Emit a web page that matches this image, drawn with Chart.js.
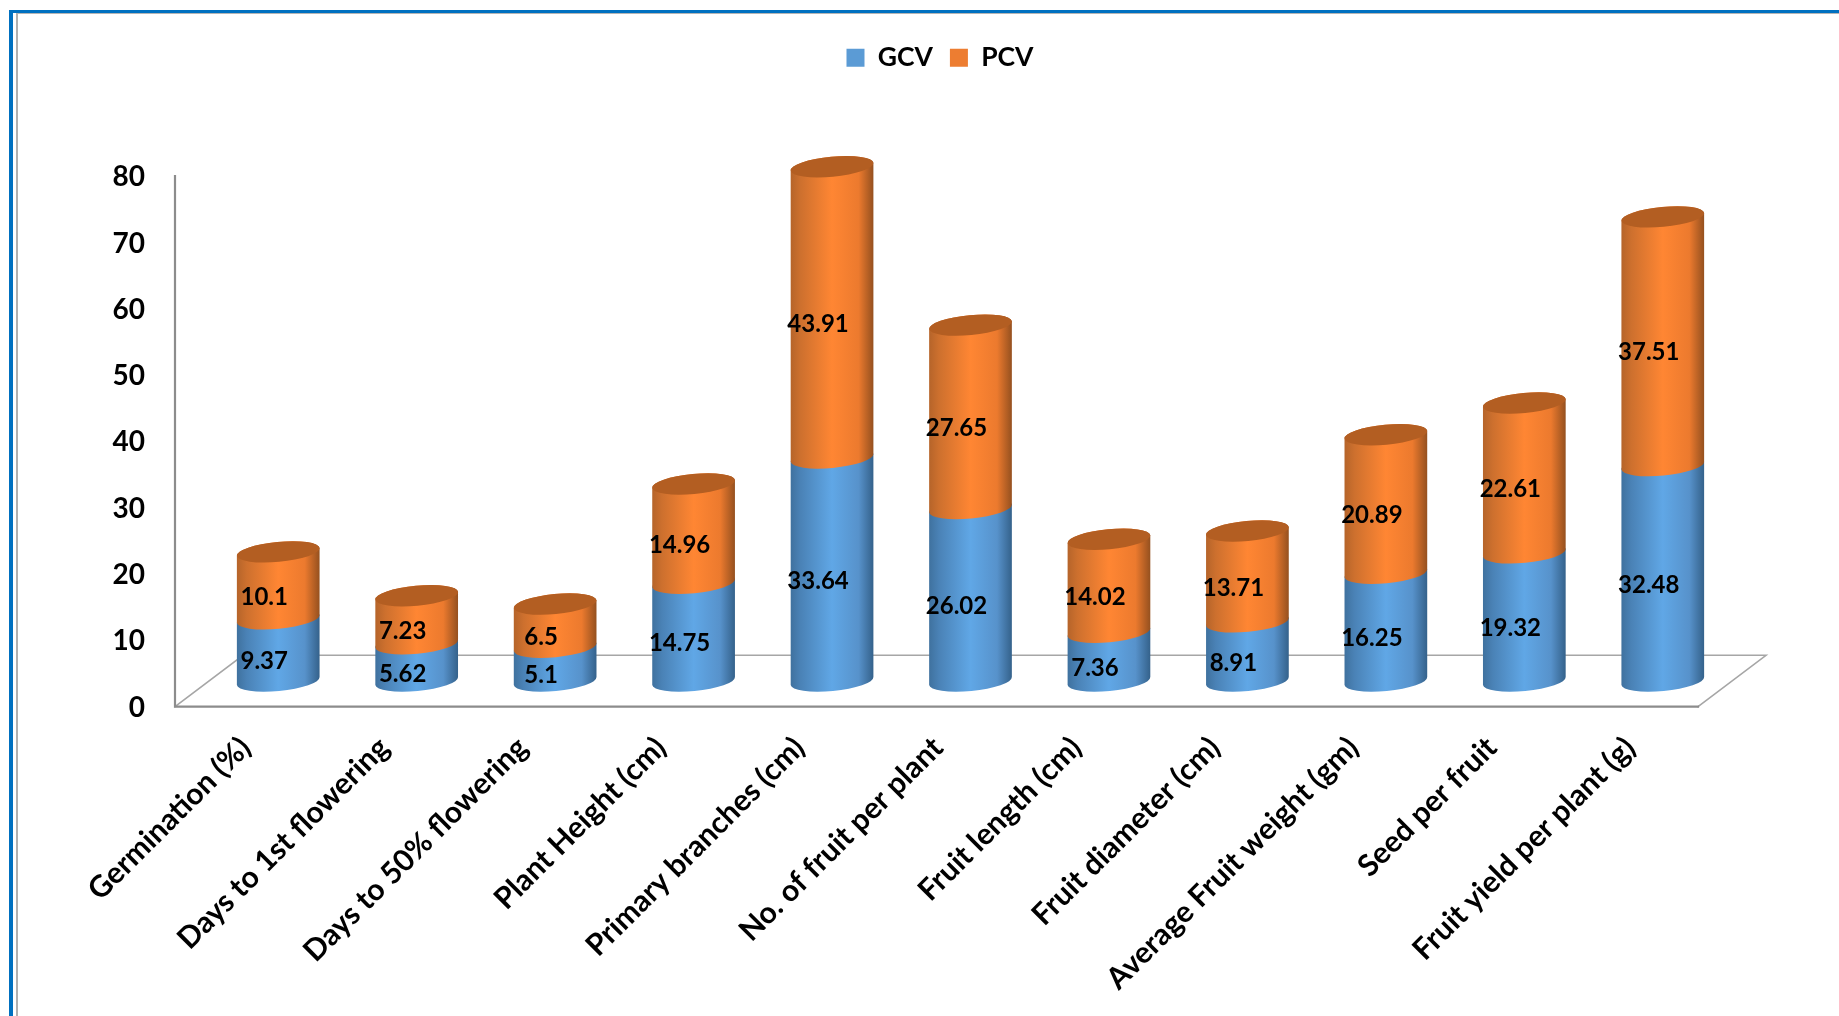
<!DOCTYPE html>
<html>
<head>
<meta charset="utf-8">
<title>GCV and PCV by trait</title>
<script src="https://cdn.jsdelivr.net/npm/chart.js@4"></script>
<style>
  html, body { margin: 0; padding: 0; background: #fff; overflow: hidden; }
  #wrap { position: relative; width: 1839px; height: 1016px; }
  #wrap canvas { position: absolute; left: 0; top: 0; }
  .rule { position: absolute; }
</style>
</head>
<body>
<div id="wrap">
  <div class="rule" style="left:9px;top:10px;right:0;height:3px;background:#0070c0"></div>
  <div class="rule" style="left:16px;top:13px;right:0;height:1px;background:#b5b5b5"></div>
  <div class="rule" style="left:9px;top:10px;bottom:0;width:4px;background:#0070c0"></div>
  <div class="rule" style="left:16px;top:13px;bottom:0;width:2px;background:#b0b0b0"></div>
  <canvas id="chart" width="1839" height="1016"></canvas>
</div>
<script>
const categories = [
  'Germination (%)', 'Days to 1st flowering', 'Days to 50% flowering',
  'Plant Height (cm)', 'Primary branches (cm)', 'No. of fruit per plant',
  'Fruit length (cm)', 'Fruit diameter (cm)', 'Average Fruit weight (gm)',
  'Seed per fruit', 'Fruit yield per plant (g)'
];
const gcvValues = [9.37, 5.62, 5.1, 14.75, 33.64, 26.02, 7.36, 8.91, 16.25, 19.32, 32.48];
const pcvValues = [10.1, 7.23, 6.5, 14.96, 43.91, 27.65, 14.02, 13.71, 20.89, 22.61, 37.51];

const FONT = 'Lato, "Liberation Sans", sans-serif';
const DEPTH_X = 34;      // half of the floor's horizontal skew
const DEPTH_Y = 25.7;    // half of the floor's vertical skew
const CAP_RY = 10;       // vertical radius of a cylinder's end
const TILT = -0.095;     // slant of the cylinder ends, radians
const LEGEND_SHIFT = 24.5;

// Shading across a cylinder, left to right
const shades = [
  { stops: [[0, '#3f719e'], [0.12, '#4a82b6'], [0.5, '#60a7e6'], [0.82, '#5792cb'], [1, '#34618a']] },
  { stops: [[0, '#b5642a'], [0.12, '#cd702e'], [0.5, '#ff8633'], [0.82, '#ec7a2e'], [1, '#94501f']], cap: '#b35e22' }
];

function cylinderFill(ctx, x, w, stops) {
  const g = ctx.createLinearGradient(x - w / 2, 0, x + w / 2, 0);
  stops.forEach(([p, c]) => g.addColorStop(p, c));
  return g;
}

function drawSegment(ctx, bar, shade, withCap) {
  const rx = bar.width / 2;
  ctx.beginPath();
  ctx.ellipse(bar.x, bar.base, rx, CAP_RY, TILT, 0, Math.PI, false);
  ctx.ellipse(bar.x, bar.y, rx, CAP_RY, TILT, Math.PI, 0, false);
  ctx.closePath();
  ctx.fillStyle = cylinderFill(ctx, bar.x, bar.width, shade.stops);
  ctx.fill();
  if (withCap) {
    ctx.beginPath();
    ctx.ellipse(bar.x, bar.y, rx, CAP_RY, TILT, 0, Math.PI * 2);
    ctx.fillStyle = shade.cap;
    ctx.fill();
  }
}

const cylinderPlugin = {
  id: 'cylinders',
  beforeLayout(chart) {
    const legend = chart.legend;
    if (legend.tuned) return;
    legend.tuned = true;
    // Reserve the space between the legend and the plot
    const fit = legend.fit;
    legend.fit = function () { fit.call(this); this.height = 123; };
    // The legend sits a little right of the plot's centre
    const draw = legend.draw;
    legend.draw = function () {
      const ctx = this.ctx;
      ctx.save();
      ctx.translate(LEGEND_SHIFT, 0);
      draw.call(this);
      ctx.restore();
    };
  },
  beforeDatasetsDraw(chart) {
    const { ctx, chartArea: a } = chart;
    ctx.save();

    // Floor and front vertical axis
    const floorY = chart.scales.y.getPixelForValue(0);
    const frontY = floorY + DEPTH_Y, backY = floorY - DEPTH_Y;
    const topY = chart.scales.y.getPixelForValue(80) + DEPTH_Y;
    ctx.lineCap = 'square';
    ctx.strokeStyle = '#a6a6a6';
    ctx.lineWidth = 1.6;
    ctx.beginPath();
    ctx.moveTo(a.left - DEPTH_X, frontY);
    ctx.lineTo(a.left + DEPTH_X, backY);
    ctx.lineTo(a.right + DEPTH_X, backY);
    ctx.lineTo(a.right - DEPTH_X, frontY);
    ctx.stroke();
    ctx.strokeStyle = '#8c8c8c';
    ctx.lineWidth = 2.2;
    ctx.beginPath();
    ctx.moveTo(a.left - DEPTH_X, topY);
    ctx.lineTo(a.left - DEPTH_X, frontY);
    ctx.lineTo(a.right - DEPTH_X, frontY);
    ctx.stroke();

    // Stacked cylinders, placed from the bar elements the library laid out
    const metas = chart.getSortedVisibleDatasetMetas();
    categories.forEach((_, i) => {
      metas.forEach((meta, m) => {
        drawSegment(ctx, meta.data[i].getProps(['x', 'y', 'base', 'width']), shades[m], m === metas.length - 1);
      });
    });

    // Value labels
    ctx.font = 'bold 24px ' + FONT;
    ctx.fillStyle = '#000';
    ctx.textAlign = 'center';
    ctx.textBaseline = 'middle';
    metas.forEach((meta, m) => {
      meta.data.forEach((el, i) => {
        const c = el.getCenterPoint();
        const value = chart.data.datasets[m].data[i];
        ctx.fillText(String(value), c.x - 14, c.y + 11.5);
      });
    });
    ctx.restore();
    return false;
  }
};

new Chart(document.getElementById('chart'), {
  type: 'bar',
  plugins: [cylinderPlugin],
  data: {
    labels: categories,
    datasets: [
      { label: 'GCV', data: gcvValues, backgroundColor: '#5b9bd5', borderWidth: 0 },
      { label: 'PCV', data: pcvValues, backgroundColor: '#ed7d31', borderWidth: 0 }
    ]
  },
  options: {
    responsive: false,
    animation: false,
    layout: { padding: { top: 27.5, left: 99, right: 107, bottom: 0 } },
    datasets: { bar: { categoryPercentage: 1, barPercentage: 0.6 } },
    plugins: {
      tooltip: { enabled: false },
      legend: {
        position: 'top',
        onClick: null,
        labels: {
          boxWidth: 18, boxHeight: 18, padding: 17,
          color: '#000',
          font: { family: FONT, weight: 'bold', size: 26.5 }
        }
      }
    },
    scales: {
      x: {
        stacked: true,
        grid: { display: false, drawTicks: false },
        border: { display: false },
        afterFit(s) { s.height = 335; },
        ticks: {
          autoSkip: false, minRotation: 45, maxRotation: 45,
          padding: 49, labelOffset: -32.5,
          color: '#000',
          font: { family: FONT, weight: 'bold', size: 30 }
        }
      },
      y: {
        stacked: true,
        min: 0, max: 80,
        grid: { display: false, drawTicks: false },
        border: { display: false },
        afterFit(s) { s.width = 110; },
        ticks: {
          stepSize: 10, padding: 64, labelOffset: DEPTH_Y + 1,
          color: '#000',
          font: { family: FONT, weight: 'bold', size: 28 }
        }
      }
    }
  }
});
</script>
</body>
</html>
